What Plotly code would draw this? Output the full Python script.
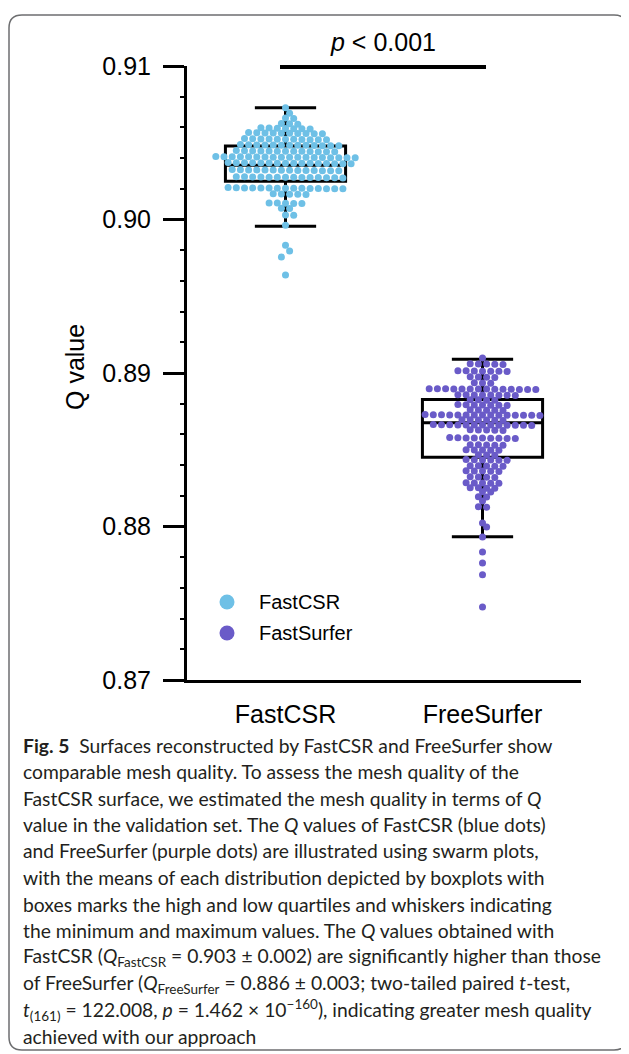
import plotly.graph_objects as go

# ---------------- data ----------------
categories = ["FastCSR", "FreeSurfer"]

fastcsr_q = [
    0.90728,
    0.90692,
    0.90661, 0.90658,
    0.90626, 0.90623, 0.90621,
    0.90596, 0.90593, 0.90591, 0.90597, 0.90590, 0.90595, 0.90592,
    0.90564, 0.90561, 0.90559, 0.90566, 0.90562, 0.90558, 0.90563, 0.90565, 0.90560, 0.90562,
    0.90525, 0.90522, 0.90520, 0.90527, 0.90523, 0.90519, 0.90524, 0.90521, 0.90526, 0.90520, 0.90523,
    0.90486, 0.90483, 0.90481, 0.90488, 0.90484, 0.90480, 0.90485, 0.90487, 0.90482, 0.90484, 0.90481, 0.90486, 0.90483,
    0.90447, 0.90444, 0.90442, 0.90449, 0.90445, 0.90441, 0.90446, 0.90448, 0.90443, 0.90445, 0.90442, 0.90447, 0.90444,
    0.90408, 0.90405, 0.90403, 0.90410, 0.90406, 0.90402, 0.90407, 0.90409, 0.90404, 0.90406, 0.90403, 0.90408, 0.90405, 0.90407, 0.90404, 0.90409, 0.90402, 0.90406,
    0.90369, 0.90366, 0.90364, 0.90371, 0.90367, 0.90363, 0.90368, 0.90370, 0.90365, 0.90367, 0.90364, 0.90369, 0.90366, 0.90368, 0.90365, 0.90367,
    0.90323, 0.90320, 0.90318, 0.90325, 0.90321, 0.90317, 0.90322, 0.90324, 0.90319, 0.90321, 0.90318, 0.90323, 0.90320, 0.90322,
    0.90277, 0.90274, 0.90272, 0.90279, 0.90275, 0.90271, 0.90276, 0.90278, 0.90273, 0.90275, 0.90272, 0.90277, 0.90274, 0.90276,
    0.90206, 0.90203, 0.90201, 0.90208, 0.90204, 0.90200, 0.90205, 0.90207, 0.90202, 0.90204, 0.90201, 0.90206, 0.90203, 0.90205, 0.90202,
    0.90167, 0.90164, 0.90166, 0.90163, 0.90165,
    0.90108, 0.90105, 0.90107, 0.90104, 0.90106,
    0.90074, 0.90071,
    0.90029, 0.90027,
    0.89963,
    0.89833, 0.89794, 0.89755, 0.89638,
]

freesurfer_q = [
    0.89097,
    0.89060, 0.89057, 0.89059, 0.89056, 0.89058,
    0.89014, 0.89011, 0.89013, 0.89010, 0.89012, 0.89015, 0.89011,
    0.88975, 0.88972, 0.88974, 0.88971,
    0.88936, 0.88933, 0.88935,
    0.88897, 0.88894, 0.88896, 0.88893, 0.88895, 0.88898, 0.88892, 0.88896, 0.88894, 0.88897, 0.88893, 0.88895, 0.88896, 0.88894,
    0.88858, 0.88855, 0.88857, 0.88854, 0.88856, 0.88859, 0.88855, 0.88857,
    0.88826, 0.88823, 0.88825, 0.88822,
    0.88793, 0.88790, 0.88792, 0.88789, 0.88791, 0.88794, 0.88790,
    0.88760, 0.88757, 0.88759, 0.88756, 0.88758,
    0.88728, 0.88725, 0.88727, 0.88724, 0.88726, 0.88729, 0.88723, 0.88727, 0.88725, 0.88728, 0.88724, 0.88726, 0.88727, 0.88725, 0.88726,
    0.88695, 0.88692, 0.88694, 0.88691, 0.88693, 0.88696,
    0.88663, 0.88660, 0.88662, 0.88659, 0.88661, 0.88664, 0.88658, 0.88662, 0.88660, 0.88663, 0.88659, 0.88661, 0.88662,
    0.88630, 0.88627, 0.88629, 0.88626, 0.88628,
    0.88578, 0.88575, 0.88577, 0.88574, 0.88576, 0.88579, 0.88573, 0.88577, 0.88575,
    0.88533, 0.88530, 0.88532, 0.88529, 0.88531,
    0.88500, 0.88497, 0.88499, 0.88496, 0.88498,
    0.88467, 0.88464, 0.88466,
    0.88435, 0.88432, 0.88434, 0.88431, 0.88433, 0.88436,
    0.88396, 0.88393, 0.88395, 0.88392, 0.88394,
    0.88363, 0.88360, 0.88362, 0.88359, 0.88361,
    0.88324, 0.88321, 0.88323, 0.88320,
    0.88285, 0.88282, 0.88284, 0.88281, 0.88283,
    0.88253, 0.88250, 0.88252, 0.88249,
    0.88226, 0.88224,
    0.88194, 0.88192,
    0.88166,
    0.88128, 0.88126,
    0.88023, 0.87997, 0.87932, 0.87834, 0.87763, 0.87685, 0.87476,
]

box_upper = [0.90728, 0.89089]
box_q3 = [0.90479, 0.88828]
box_median = [0.90354, 0.88676]
box_q1 = [0.90249, 0.88451]
box_lower = [0.89956, 0.87934]

y_tickvals = [0.87, 0.88, 0.89, 0.90, 0.91]
y_ticktext = ["0.87", "0.88", "0.89", "0.90", "0.91"]
legend_names = ["FastCSR", "FastSurfer"]
colors = ["#6EC0E6", "#6A5BC8"]
sig_label = "<i>p</i> &lt; 0.001"
y_title = "Q value"

caption_lines = [
    "<b>Fig. 5</b>\u00a0\u00a0Surfaces reconstructed by FastCSR and FreeSurfer show",
    "comparable mesh quality. To assess the mesh quality of the",
    "FastCSR surface, we estimated the mesh quality in terms of <i>Q</i>",
    "value in the validation set. The <i>Q</i> values of FastCSR (blue dots)",
    "and FreeSurfer (purple dots) are illustrated using swarm plots,",
    "with the means of each distribution depicted by boxplots with",
    "boxes marks the high and low quartiles and whiskers indicating",
    "the minimum and maximum values. The <i>Q</i> values obtained with",
    "FastCSR (<i>Q</i><sub>FastCSR</sub> = 0.903 ± 0.002) are significantly higher than those",
    "of FreeSurfer (<i>Q</i><sub>FreeSurfer</sub> = 0.886 ± 0.003; two-tailed paired <i>t</i>-test,",
    "<i>t</i><sub>(161)</sub> = 122.008, <i>p</i> = 1.462 × 10<sup>−160</sup>), indicating greater mesh quality",
    "achieved with our approach",
]

# ---------------- layout geometry (screen pixels) ----------------
OFF = 8                      # page body margin
SW, SH = 629, 1054           # screen size
W, H = SW - OFF, SH - OFF    # figure size
PX0, PX1, PY0, PY1 = 187, 581, 66, 680   # plot area on screen
L, R, T, B = PX0 - OFF, W - (PX1 - OFF), PY0 - OFF, H - (PY1 - OFF)
PW = PX1 - PX0
PH = PY1 - PY0
XR = (-0.5, 1.5)
YR = (0.87, 0.91)
px_per_x = PW / (XR[1] - XR[0])
px_per_y = PH / (YR[1] - YR[0])
DOT = 7.0
STEP = 8.2
FONT = "Liberation Sans, Arial, sans-serif"
CAP_FONT = "Lato, Open Sans, sans-serif"


def pxx(px):
    return (px - PX0) / PW


def pxy(py):
    return (PY1 - py) / PH


def swarm_offsets(vals, d, gap_px=2.5):
    """Row-based swarm layout (like Prism): close values share a row."""
    idx = sorted(range(len(vals)), key=lambda i: -vals[i])
    rows = []
    for i in idx:
        if rows and (vals[rows[-1][-1]] - vals[i]) * px_per_y <= gap_px:
            rows[-1].append(i)
        else:
            rows.append([i])
    xs = [0.0] * len(vals)
    prev_pts = []
    for row in rows:
        n = len(row)
        y = sum(vals[i] for i in row) / n * px_per_y
        base = [(j - (n - 1) / 2) * d for j in range(n)]
        best, best_score = 0.0, -1
        near = [(px_, py_) for px_, py_ in prev_pts if abs(py_ - y) < d]
        for s in (0.0, d / 2, -d / 2):
            if not near:
                best = 0.0
                break
            score = min(((b + s - px_) ** 2 + (y - py_) ** 2) for b in base for px_, py_ in near)
            if score > best_score + 1e-9:
                best, best_score = s, score
        pts = [b + best for b in base]
        for i, b in zip(row, pts):
            xs[i] = b / px_per_x
        prev_pts = prev_pts + [(p, y) for p in pts]
        prev_pts = [(p_, q_) for p_, q_ in prev_pts if abs(q_ - y) < 2 * d]
    return xs


fig = go.Figure()

for k, vals in enumerate([fastcsr_q, freesurfer_q]):
    offs = swarm_offsets(vals, STEP)
    fig.add_trace(go.Scatter(
        x=[k + o for o in offs], y=vals, mode="markers",
        marker=dict(size=DOT, color=colors[k], line=dict(width=0)),
        name=legend_names[k], showlegend=False, cliponaxis=False, hoverinfo="y",
    ))

fig.add_trace(go.Box(
    x=[0, 1], q1=box_q1, median=box_median, q3=box_q3,
    lowerfence=box_lower, upperfence=box_upper,
    width=0.61, whiskerwidth=0.51, boxpoints=False,
    line=dict(color="black", width=3), fillcolor="rgba(0,0,0,0)",
    showlegend=False, hoverinfo="skip",
))

shapes = []
# significance bar
shapes.append(dict(type="line", xref="paper", yref="paper",
                   x0=pxx(280), x1=pxx(486), y0=pxy(67), y1=pxy(67),
                   line=dict(color="black", width=4)))
# legend dots
for k, cy in enumerate([602, 633]):
    shapes.append(dict(type="circle", xref="paper", yref="paper",
                       x0=pxx(227 - 7.5), x1=pxx(227 + 7.5),
                       y0=pxy(cy + 7.5), y1=pxy(cy - 7.5),
                       fillcolor=colors[k], line=dict(width=0)))
# rounded frame
fx0, fy0, fx1, fy1, rr = 9, 15, 627, 1050, 13
pts = (
    f"M {pxx(fx0 + rr)},{pxy(fy0)} L {pxx(fx1 - rr)},{pxy(fy0)} "
    f"Q {pxx(fx1)},{pxy(fy0)} {pxx(fx1)},{pxy(fy0 + rr)} "
    f"L {pxx(fx1)},{pxy(fy1 - rr)} Q {pxx(fx1)},{pxy(fy1)} {pxx(fx1 - rr)},{pxy(fy1)} "
    f"L {pxx(fx0 + rr)},{pxy(fy1)} Q {pxx(fx0)},{pxy(fy1)} {pxx(fx0)},{pxy(fy1 - rr)} "
    f"L {pxx(fx0)},{pxy(fy0 + rr)} Q {pxx(fx0)},{pxy(fy0)} {pxx(fx0 + rr)},{pxy(fy0)} Z"
)
shapes.append(dict(type="path", xref="paper", yref="paper", path=pts,
                   line=dict(color="#6d6e70", width=1.5)))

annotations = []
annotations.append(dict(text=sig_label, x=pxx(383), y=pxy(42), xref="paper", yref="paper",
                        showarrow=False, font=dict(family=FONT, size=25, color="black"),
                        xanchor="center", yanchor="middle"))
annotations.append(dict(text=y_title, x=pxx(75), y=pxy(367), xref="paper", yref="paper",
                        showarrow=False, textangle=-90,
                        font=dict(family=FONT, size=25, color="black"),
                        xanchor="center", yanchor="middle"))
for k, cy in enumerate([602, 633]):
    annotations.append(dict(text=legend_names[k], x=pxx(257), y=pxy(cy), xref="paper", yref="paper",
                            showarrow=False, font=dict(family=FONT, size=20, color="black"),
                            xanchor="left", yanchor="middle"))
cap_y0, cap_dy = 745, 26.5
for i, line in enumerate(caption_lines):
    annotations.append(dict(text=line, x=pxx(21), y=pxy(cap_y0 + i * cap_dy),
                            xref="paper", yref="paper", showarrow=False,
                            font=dict(family=CAP_FONT, size=19.3, color="#231f20"),
                            xanchor="left", yanchor="middle", align="left"))

fig.update_layout(
    width=W, height=H,
    margin=dict(l=L, r=R, t=T, b=B, pad=0),
    paper_bgcolor="white", plot_bgcolor="white",
    shapes=shapes, annotations=annotations,
    showlegend=False,
    xaxis=dict(range=list(XR), showgrid=False, zeroline=False,
               showline=True, linewidth=3, linecolor="black",
               tickvals=[0, 1], ticktext=categories, ticks="",
               tickfont=dict(family=FONT, size=25, color="black"),
               ticklabelstandoff=10, fixedrange=True),
    yaxis=dict(range=list(YR), showgrid=False, zeroline=False,
               showline=True, linewidth=3, linecolor="black",
               tickvals=y_tickvals, ticktext=y_ticktext,
               ticks="outside", ticklen=21, tickwidth=3, tickcolor="black",
               tickfont=dict(family=FONT, size=25, color="black"),
               ticklabelstandoff=7,
               minor=dict(dtick=0.002, tick0=0.87, ticks="outside", ticklen=4,
                          tickwidth=1.5, tickcolor="black"),
               fixedrange=True),
)

fig.write_html("out.html")
